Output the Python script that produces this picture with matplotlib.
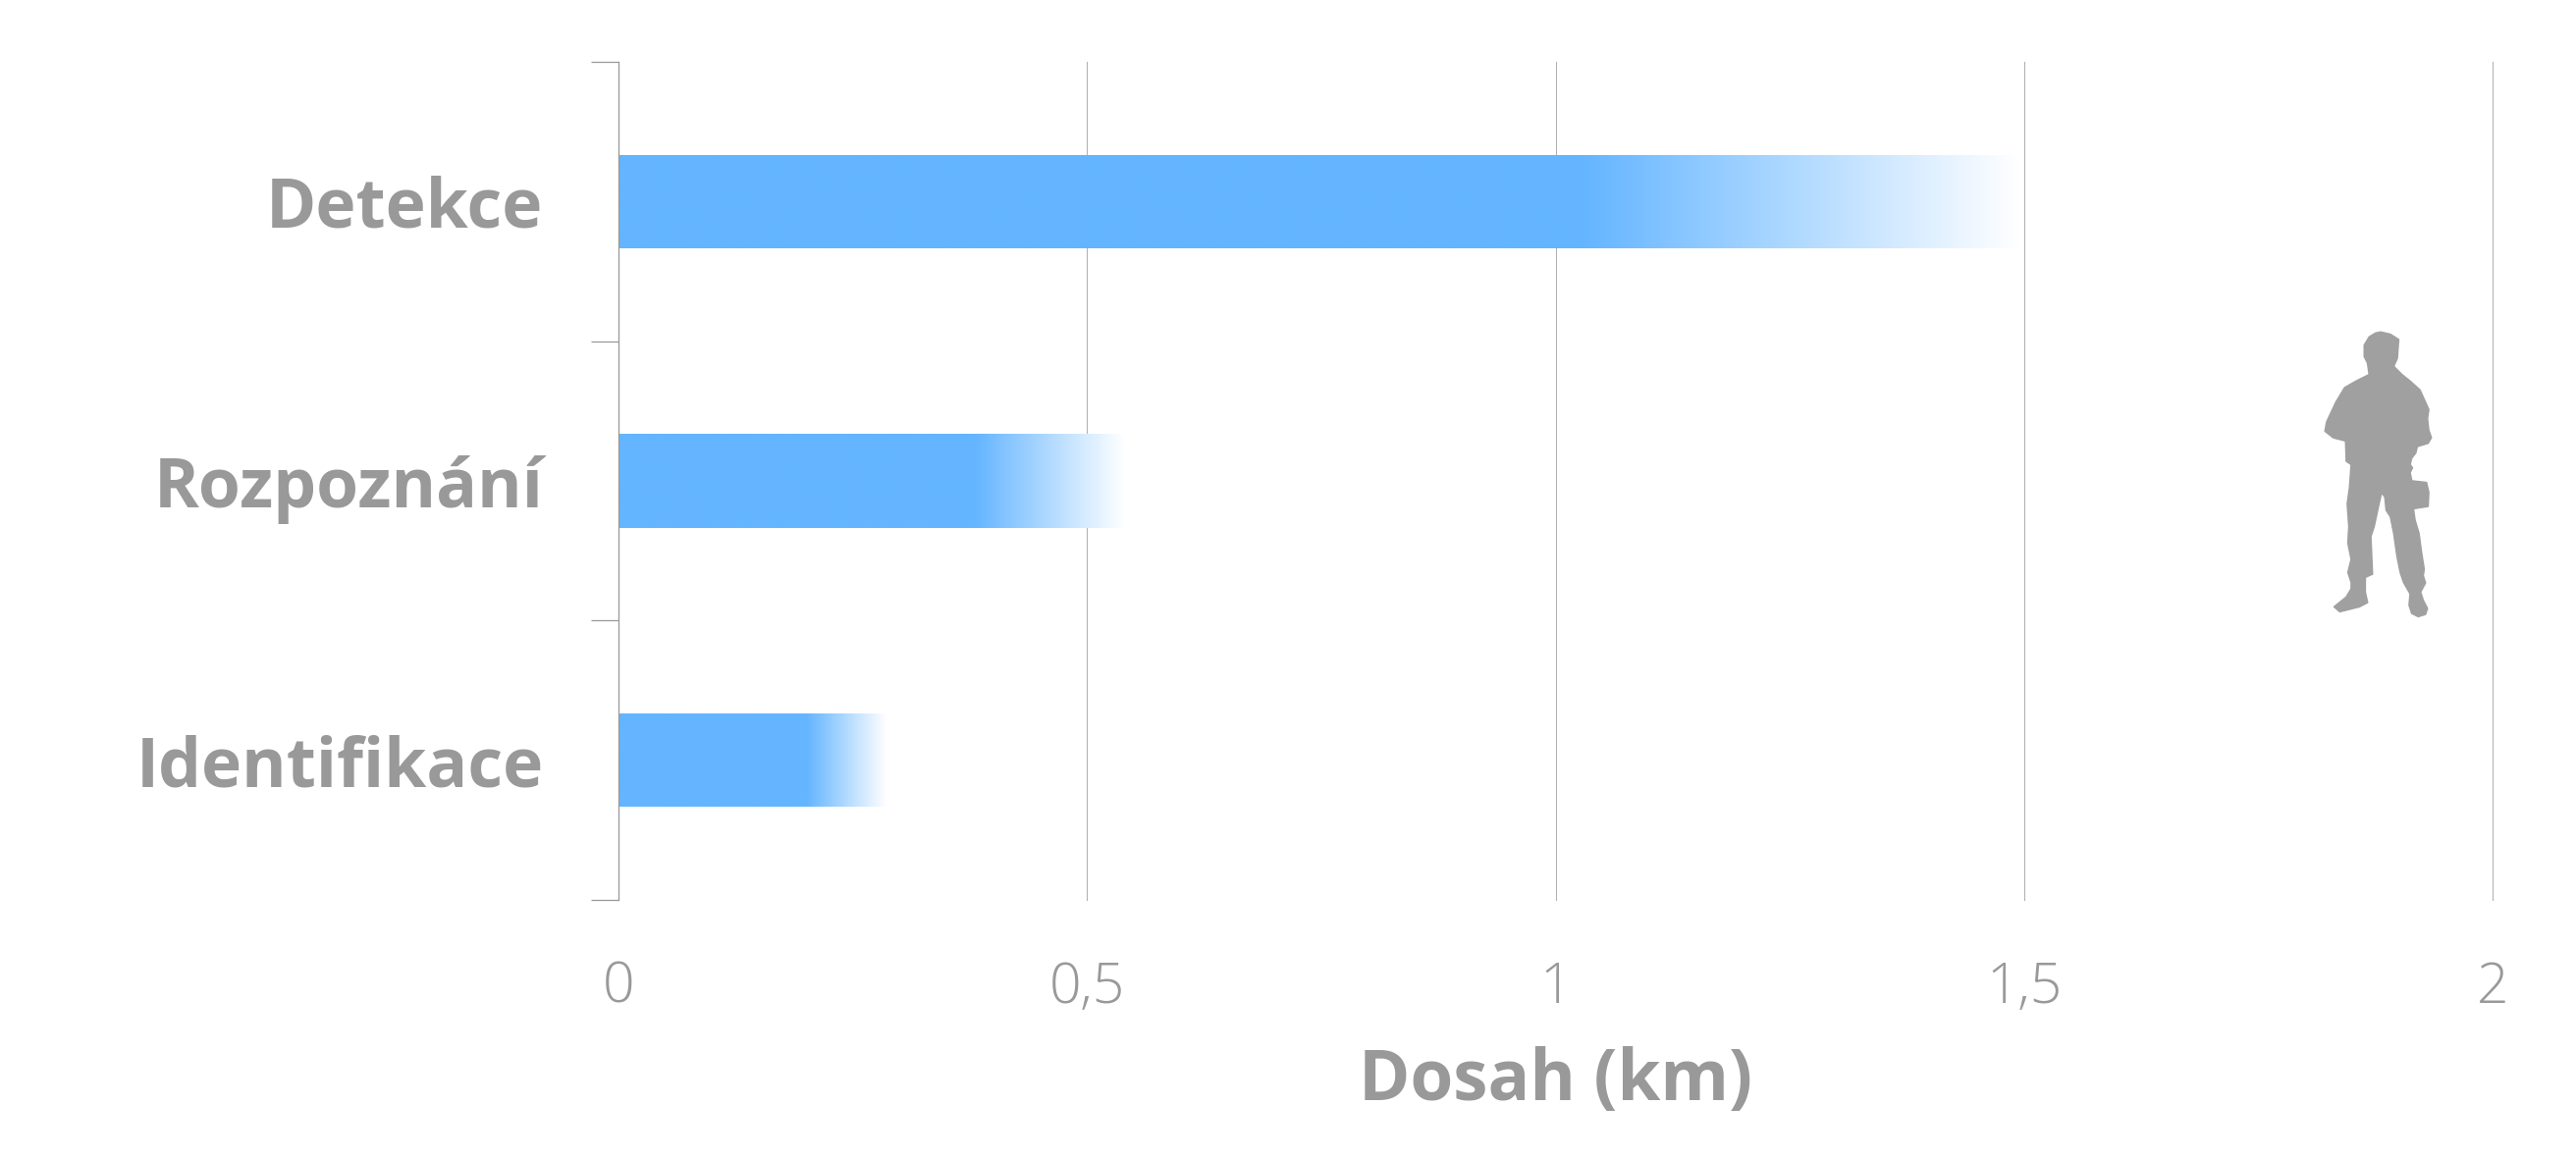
# -*- coding: utf-8 -*-
import numpy as np
import matplotlib
matplotlib.use('Agg')
import matplotlib.pyplot as plt
from matplotlib.colors import LinearSegmentedColormap
from matplotlib.patches import PathPatch
from matplotlib.path import Path
from matplotlib.transforms import Affine2D

categories = ['Detekce', 'Rozpoznání', 'Identifikace']
bar_end = [1.495, 0.54, 0.285]
solid_end = [1.03, 0.38, 0.20]
x_ticks = [0, 0.5, 1, 1.5, 2]
x_labels = ['0', '0,5', '1', '1,5', '2']

# outline of the soldier icon, in pixels of a 720x990 crop
soldier = [(375,85),(405,92),(430,108),(428,135),(426,165),(415,190),(440,215),(465,235),
           (495,262),(510,295),(522,322),(518,350),(522,385),(530,408),(520,425),(487,435),
           (482,455),(470,470),(465,490),(472,500),(465,515),(470,540),(515,545),(522,575),
           (520,618),(475,625),(480,660),(492,700),(500,760),(508,810),(505,830),(512,852),
           (497,880),(505,905),(518,930),(512,948),(490,955),(470,945),(462,920),(465,885),
           (445,850),(435,820),(425,770),(415,700),(405,650),(392,630),(388,590),(378,575),
           (370,610),(355,680),(345,710),(348,780),(350,825),(328,835),(328,880),(335,912),
           (310,925),(250,940),(233,925),(270,895),(285,870),(285,850),(275,820),(285,780),
           (275,730),(278,680),(273,610),(280,560),(285,490),(270,480),(268,418),(230,408),
           (205,388),(210,360),(238,300),(265,255),(300,235),(320,225),(340,215),(335,180),
           (325,160),(325,125),(340,100),(360,88)]
soldier_hole = [(276,358),(286,356),(288,368),(278,370)]

GREY = '#999999'
BLUE = '#64B5FF'
W, H = 2624, 1180

plt.rcParams['font.family'] = ['Open Sans', 'DejaVu Sans']

fig = plt.figure(figsize=(W / 100, H / 100), dpi=100, facecolor='white')
ax = fig.add_axes([630 / W, 1 - 917 / H, (2539 - 630) / W, (917 - 63) / H])

bar_height = 0.334

ax.grid(axis='x', color='#B0B0B0', linewidth=0.75, zorder=0, clip_on=False)
ax.set_axisbelow(True)

for i, name in enumerate(categories):
    y = i + 0.5
    stop = solid_end[i] / bar_end[i]
    fade = LinearSegmentedColormap.from_list('fade', [(0, BLUE), (stop, BLUE), (1, '#FFFFFF')], N=512)
    bar = ax.barh(y, bar_end[i], height=bar_height, color='white', linewidth=0, zorder=2)[0]
    im = ax.imshow(np.linspace(0, 1, 512).reshape(1, -1), cmap=fade, aspect='auto', zorder=3,
                   interpolation='bilinear',
                   extent=[0, bar_end[i], y + bar_height / 2, y - bar_height / 2])
    im.set_clip_path(bar)

ax.set_xlim(0, 2)
ax.set_ylim(3, 0)

ax.set_xticks(x_ticks)
ax.set_xticklabels(x_labels, fontsize=41, color=GREY, fontweight='light')
ax.tick_params(axis='x', length=0, pad=44)

ax.set_yticks([0, 1, 2, 3])
ax.set_yticklabels([])
ax.tick_params(axis='y', which='major', length=20, width=0.9, color=GREY)
ax.set_yticks([0.5, 1.5, 2.5], minor=True)
ax.set_yticklabels(categories, minor=True, fontsize=50, fontweight='bold', color=GREY)
ax.tick_params(axis='y', which='minor', length=0, pad=55)

for side in ['top', 'right', 'bottom']:
    ax.spines[side].set_visible(False)
ax.spines['left'].set_color(GREY)
ax.spines['left'].set_linewidth(0.9)
ax.spines['left'].set_zorder(4)

ax.set_xlabel('Dosah (km)', fontsize=51, fontweight='bold', color=GREY, labelpad=22)

# the icon sits in figure pixels, crop origin at (2300, 310), scale 1/3
outer = soldier + [soldier[0]]
hole = soldier_hole + [soldier_hole[0]]
verts = np.array(outer + hole, dtype=float)
codes = ([Path.MOVETO] + [Path.LINETO] * (len(soldier) - 1) + [Path.CLOSEPOLY]
         + [Path.MOVETO] + [Path.LINETO] * (len(soldier_hole) - 1) + [Path.CLOSEPOLY])
to_fig = Affine2D().scale(1 / 3, -1 / 3).translate(2300, H - 310)
fig.add_artist(PathPatch(Path(verts, codes), facecolor='#A0A0A0', edgecolor='#A0A0A0',
                         linewidth=1.2, joinstyle='round', transform=to_fig))

fig.savefig('out.png', dpi=100, facecolor='white')
